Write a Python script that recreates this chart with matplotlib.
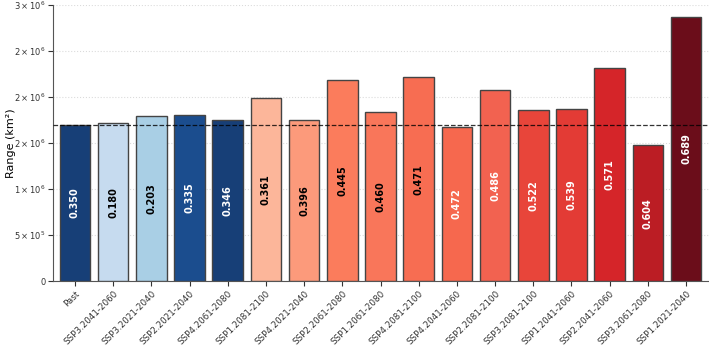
import matplotlib
matplotlib.use("Agg")
import matplotlib.pyplot as plt
from matplotlib.ticker import FuncFormatter, MultipleLocator

# datos
escenarios = ["Past", "SSP3.2041-2060", "SSP3.2021-2040", "SSP2.2021-2040", "SSP4.2061-2080",
              "SSP1.2081-2100", "SSP4.2021-2040", "SSP2.2061-2080", "SSP1.2061-2080", "SSP4.2081-2100",
              "SSP4.2041-2060", "SSP2.2081-2100", "SSP3.2081-2100", "SSP1.2041-2060", "SSP2.2041-2060",
              "SSP3.2061-2080", "SSP1.2021-2040"]
rango = [1.696e6, 1.717e6, 1.790e6, 1.808e6, 1.757e6,
         1.989e6, 1.750e6, 2.185e6, 1.844e6, 2.217e6,
         1.674e6, 2.083e6, 1.859e6, 1.873e6, 2.312e6,
         1.475e6, 2.873e6]
etiquetas = ["0.350", "0.180", "0.203", "0.335", "0.346",
             "0.361", "0.396", "0.445", "0.460", "0.471",
             "0.472", "0.486", "0.522", "0.539", "0.571",
             "0.604", "0.689"]

colores = ["#173f77", "#c6dbef", "#a9cfe5", "#1b4d8e", "#173f77",
           "#fcb69a", "#fc9a7b", "#fb7c5c", "#f9765a", "#f76d52",
           "#f6684e", "#f26250", "#e8453a", "#e33b35", "#d52529",
           "#bb1d24", "#6b0d1a"]
color_texto = ["white", "black", "black", "white", "white",
               "black", "black", "black", "black", "black",
               "white", "white", "white", "white", "white",
               "white", "white"]

fig = plt.figure(figsize=(7.09, 3.47), dpi=100)
ax = fig.add_axes([0.075, 0.19, 0.925, 0.795])

x = range(len(escenarios))
barras = ax.bar(x, rango, width=0.8, color=colores, edgecolor="#444444", linewidth=1, zorder=3)

for i, b in enumerate(barras):
    h = b.get_height()
    ax.text(b.get_x() + b.get_width() / 2, h / 2, etiquetas[i], rotation=90,
            ha="center", va="center", fontsize=7, fontweight="bold",
            color=color_texto[i], zorder=4)

ax.axhline(rango[0], color="black", linestyle="--", linewidth=0.9, alpha=0.8, zorder=5)

def formato(v, pos):
    if v == 0:
        return "0"
    s = f"{v:.0e}"
    m, e = s.split("e")
    return r"$%s\times10^{%d}$" % (m, int(e))

ax.yaxis.set_major_locator(MultipleLocator(5e5))
ax.yaxis.set_major_formatter(FuncFormatter(formato))
ax.set_ylim(0, 3e6)
ax.set_xlim(-0.57, 16.6)
ax.set_xticks(list(x))
ax.set_xticklabels(escenarios, rotation=45, ha="right", rotation_mode="anchor", fontsize=6.3)
ax.tick_params(axis="y", labelsize=6, colors="#333333", pad=2)
ax.tick_params(axis="x", colors="#333333", pad=2)
ax.set_ylabel("Range (km²)", fontsize=8)
ax.yaxis.set_label_coords(-0.057, 0.5)

ax.grid(axis="y", linestyle=":", color="#cccccc", alpha=0.7, zorder=0)
ax.spines["top"].set_visible(False)
ax.spines["right"].set_visible(False)
ax.spines["left"].set_color("#555555")
ax.spines["bottom"].set_color("#555555")

plt.savefig("out.png", dpi=100)
